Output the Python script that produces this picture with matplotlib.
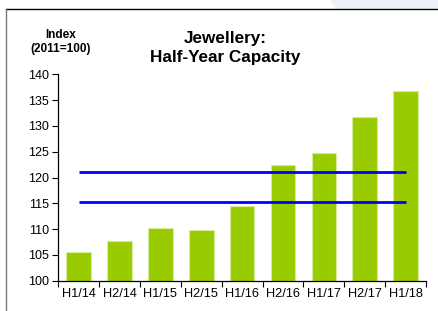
import matplotlib
matplotlib.use("Agg")
import matplotlib.pyplot as plt
from matplotlib.patches import Polygon
from matplotlib.lines import Line2D

# --- data ---
periods = ["H1/14", "H2/14", "H1/15", "H2/15", "H1/16",
           "H2/16", "H1/17", "H2/17", "H1/18"]
capacity = [105.5, 107.7, 110.3, 109.9, 114.5, 122.5, 124.7, 131.8, 136.7]
ref_levels = [121.1, 115.3]
y_ticks = [100, 105, 110, 115, 120, 125, 130, 135, 140]

plt.rcParams['font.family'] = ['Liberation Sans', 'DejaVu Sans']

fig = plt.figure(figsize=(4.38, 3.11), dpi=100)
ax = fig.add_axes([0.1331, 0.0974, 0.8395, 0.6634])

x = list(range(len(periods)))
ax.bar(x, [v - 100 for v in capacity], bottom=100, width=0.6,
       color="#99cc00", edgecolor="#d6ec9a", linewidth=0.8, zorder=2)

for lvl in ref_levels:
    ax.plot([x[0], x[-1]], [lvl, lvl], color="#0000ff", linewidth=2,
            solid_capstyle="butt", zorder=3)

ax.set_xlim(-0.5, len(periods) - 0.5)
ax.set_ylim(100, 140)
ax.set_yticks(y_ticks)
ax.tick_params(axis="y", direction="out", length=4, width=0.8,
               labelsize=9, pad=2.5)

# category boundaries get the tick marks, labels sit at the bar centres
ax.set_xticks([i - 0.5 for i in range(len(periods) + 1)])
ax.set_xticklabels([])
ax.set_xticks(x, minor=True)
ax.set_xticklabels(periods, minor=True)
ax.tick_params(axis="x", which="major", direction="out", length=4, width=0.8)
ax.tick_params(axis="x", which="minor", length=0, labelsize=9.2, pad=5)

for s in ["top", "right"]:
    ax.spines[s].set_visible(False)
for s in ["left", "bottom"]:
    ax.spines[s].set_linewidth(0.9)

fig.text(0.514, 0.846, "Jewellery:\nHalf-Year Capacity", ha="center",
         va="center", fontsize=12.3, fontweight="bold", linespacing=1.3)
fig.text(0.139, 0.865, "Index\n(2011=100)", ha="center", va="center",
         fontsize=8.5, fontweight="bold", linespacing=1.3)

# --- frame and corner background ---
W, H = 438, 311
fig.patches.append(Polygon([(330 / W, 1), (1, 1), (1, (H - 9) / H),
                            (336 / W, (H - 9) / H)], closed=True,
                           transform=fig.transFigure, facecolor="#eff1f9",
                           edgecolor="none"))
fig.lines.append(Line2D([6 / W, 1], [(H - 9) / H] * 2, color="black",
                        linewidth=1, transform=fig.transFigure))
fig.lines.append(Line2D([6 / W] * 2, [0, (H - 9) / H], color="#777777",
                        linewidth=1, transform=fig.transFigure))

fig.savefig("out.png", dpi=100)
